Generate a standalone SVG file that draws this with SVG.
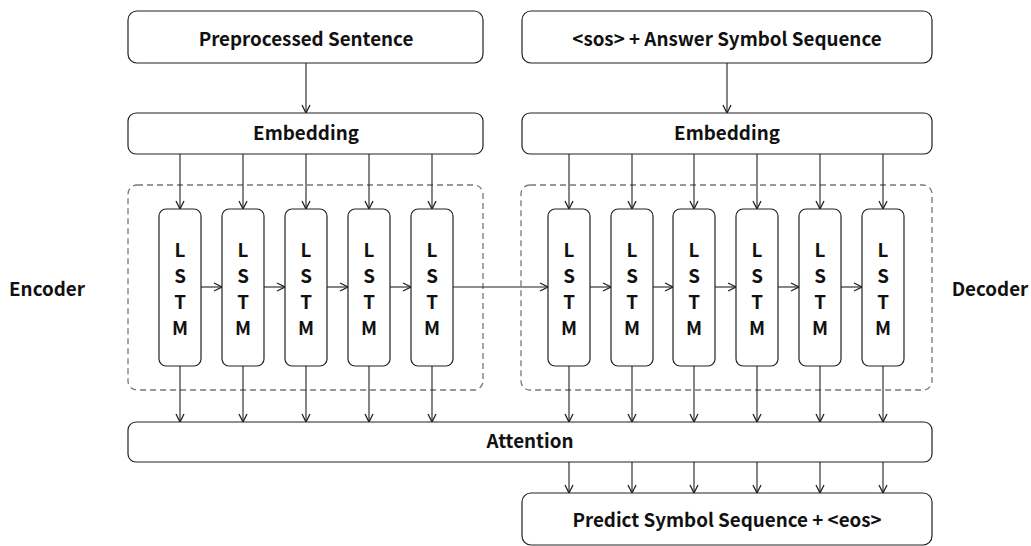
<svg xmlns="http://www.w3.org/2000/svg" width="1031" height="546" viewBox="0 0 1031 546">
  <defs>
    <marker id="arrow" viewBox="0 0 10 10" refX="9" refY="5" markerWidth="10" markerHeight="10" markerUnits="userSpaceOnUse" orient="auto">
      <path d="M1,1 L9,5 L1,9" fill="none" stroke="#222" stroke-width="1.3"/>
    </marker>
  </defs>
  <style>
    .box { fill: #fff; stroke: #222; stroke-width: 1.2; }
    .group { fill: none; stroke: #777; stroke-width: 1.3; stroke-dasharray: 6 4; }
    .lbl { font-family: "Noto Sans CJK KR", "Noto Sans", sans-serif; font-weight: bold; font-size: 18.8px; fill: #111; text-anchor: middle; }
    .conn line { stroke: #222; stroke-width: 1.1; }
    .arr { marker-end: url(#arrow); }
  </style>

  <rect width="1031" height="546" fill="#fff"/>

  <!-- encoder / decoder groupings -->
  <g id="encoder-group">
    <rect class="group" x="128" y="185" width="355" height="205" rx="9"/>
    <text class="lbl" x="47" y="296">Encoder</text>
  </g>
  <g id="decoder-group">
    <rect class="group" x="521" y="185" width="411" height="205" rx="9"/>
    <text class="lbl" x="990" y="296">Decoder</text>
  </g>

  <!-- connectors -->
  <g id="connectors" class="conn">
    <!-- inputs to embeddings -->
    <line class="arr" x1="306" y1="63" x2="306" y2="113"/>
    <line class="arr" x1="727" y1="63" x2="727" y2="113"/>
    <!-- embedding to encoder LSTMs -->
    <line class="arr" x1="180" y1="154" x2="180" y2="209"/>
    <line class="arr" x1="243" y1="154" x2="243" y2="209"/>
    <line class="arr" x1="306" y1="154" x2="306" y2="209"/>
    <line class="arr" x1="369" y1="154" x2="369" y2="209"/>
    <line class="arr" x1="432" y1="154" x2="432" y2="209"/>
    <!-- embedding to decoder LSTMs -->
    <line class="arr" x1="569" y1="154" x2="569" y2="209"/>
    <line class="arr" x1="632" y1="154" x2="632" y2="209"/>
    <line class="arr" x1="694" y1="154" x2="694" y2="209"/>
    <line class="arr" x1="757" y1="154" x2="757" y2="209"/>
    <line class="arr" x1="820" y1="154" x2="820" y2="209"/>
    <line class="arr" x1="883" y1="154" x2="883" y2="209"/>
    <!-- recurrent links -->
    <line class="arr" x1="201" y1="287" x2="222" y2="287"/>
    <line class="arr" x1="264" y1="287" x2="285" y2="287"/>
    <line class="arr" x1="327" y1="287" x2="348" y2="287"/>
    <line class="arr" x1="390" y1="287" x2="411" y2="287"/>
    <line class="arr" x1="453" y1="287" x2="548" y2="287"/>
    <line class="arr" x1="590" y1="287" x2="611" y2="287"/>
    <line class="arr" x1="653" y1="287" x2="673" y2="287"/>
    <line class="arr" x1="715" y1="287" x2="736" y2="287"/>
    <line class="arr" x1="778" y1="287" x2="799" y2="287"/>
    <line class="arr" x1="841" y1="287" x2="862" y2="287"/>
    <!-- LSTMs to attention -->
    <line class="arr" x1="180" y1="366" x2="180" y2="422"/>
    <line class="arr" x1="243" y1="366" x2="243" y2="422"/>
    <line class="arr" x1="306" y1="366" x2="306" y2="422"/>
    <line class="arr" x1="369" y1="366" x2="369" y2="422"/>
    <line class="arr" x1="432" y1="366" x2="432" y2="422"/>
    <line class="arr" x1="569" y1="366" x2="569" y2="422"/>
    <line class="arr" x1="632" y1="366" x2="632" y2="422"/>
    <line class="arr" x1="694" y1="366" x2="694" y2="422"/>
    <line class="arr" x1="757" y1="366" x2="757" y2="422"/>
    <line class="arr" x1="820" y1="366" x2="820" y2="422"/>
    <line class="arr" x1="883" y1="366" x2="883" y2="422"/>
    <!-- attention to prediction -->
    <line class="arr" x1="569" y1="462" x2="569" y2="493"/>
    <line class="arr" x1="632" y1="462" x2="632" y2="493"/>
    <line class="arr" x1="694" y1="462" x2="694" y2="493"/>
    <line class="arr" x1="757" y1="462" x2="757" y2="493"/>
    <line class="arr" x1="820" y1="462" x2="820" y2="493"/>
    <line class="arr" x1="883" y1="462" x2="883" y2="493"/>
  </g>

  <!-- input nodes -->
  <g id="preprocessed-sentence">
    <rect class="box" x="128" y="11" width="355" height="52" rx="9"/>
    <text class="lbl" x="306" y="46">Preprocessed Sentence</text>
  </g>
  <g id="answer-sequence">
    <rect class="box" x="522" y="11" width="410" height="52" rx="9"/>
    <text class="lbl" x="727" y="46">&lt;sos&gt; + Answer Symbol Sequence</text>
  </g>

  <!-- embeddings -->
  <g id="encoder-embedding">
    <rect class="box" x="128" y="113" width="355" height="41" rx="8"/>
    <text class="lbl" x="306" y="140">Embedding</text>
  </g>
  <g id="decoder-embedding">
    <rect class="box" x="522" y="113" width="410" height="41" rx="8"/>
    <text class="lbl" x="727" y="140">Embedding</text>
  </g>

  <!-- encoder LSTM cells -->
  <g id="enc-lstm-1">
    <rect class="box" x="159" y="209" width="42" height="157" rx="7"/>
    <text class="lbl" x="180"><tspan x="180" y="257">L</tspan><tspan x="180" y="283">S</tspan><tspan x="180" y="309">T</tspan><tspan x="180" y="335">M</tspan></text>
  </g>
  <g id="enc-lstm-2">
    <rect class="box" x="222" y="209" width="42" height="157" rx="7"/>
    <text class="lbl" x="243"><tspan x="243" y="257">L</tspan><tspan x="243" y="283">S</tspan><tspan x="243" y="309">T</tspan><tspan x="243" y="335">M</tspan></text>
  </g>
  <g id="enc-lstm-3">
    <rect class="box" x="285" y="209" width="42" height="157" rx="7"/>
    <text class="lbl" x="306"><tspan x="306" y="257">L</tspan><tspan x="306" y="283">S</tspan><tspan x="306" y="309">T</tspan><tspan x="306" y="335">M</tspan></text>
  </g>
  <g id="enc-lstm-4">
    <rect class="box" x="348" y="209" width="42" height="157" rx="7"/>
    <text class="lbl" x="369"><tspan x="369" y="257">L</tspan><tspan x="369" y="283">S</tspan><tspan x="369" y="309">T</tspan><tspan x="369" y="335">M</tspan></text>
  </g>
  <g id="enc-lstm-5">
    <rect class="box" x="411" y="209" width="42" height="157" rx="7"/>
    <text class="lbl" x="432"><tspan x="432" y="257">L</tspan><tspan x="432" y="283">S</tspan><tspan x="432" y="309">T</tspan><tspan x="432" y="335">M</tspan></text>
  </g>

  <!-- decoder LSTM cells -->
  <g id="dec-lstm-1">
    <rect class="box" x="548" y="209" width="42" height="157" rx="7"/>
    <text class="lbl" x="569"><tspan x="569" y="257">L</tspan><tspan x="569" y="283">S</tspan><tspan x="569" y="309">T</tspan><tspan x="569" y="335">M</tspan></text>
  </g>
  <g id="dec-lstm-2">
    <rect class="box" x="611" y="209" width="42" height="157" rx="7"/>
    <text class="lbl" x="632"><tspan x="632" y="257">L</tspan><tspan x="632" y="283">S</tspan><tspan x="632" y="309">T</tspan><tspan x="632" y="335">M</tspan></text>
  </g>
  <g id="dec-lstm-3">
    <rect class="box" x="673" y="209" width="42" height="157" rx="7"/>
    <text class="lbl" x="694"><tspan x="694" y="257">L</tspan><tspan x="694" y="283">S</tspan><tspan x="694" y="309">T</tspan><tspan x="694" y="335">M</tspan></text>
  </g>
  <g id="dec-lstm-4">
    <rect class="box" x="736" y="209" width="42" height="157" rx="7"/>
    <text class="lbl" x="757"><tspan x="757" y="257">L</tspan><tspan x="757" y="283">S</tspan><tspan x="757" y="309">T</tspan><tspan x="757" y="335">M</tspan></text>
  </g>
  <g id="dec-lstm-5">
    <rect class="box" x="799" y="209" width="42" height="157" rx="7"/>
    <text class="lbl" x="820"><tspan x="820" y="257">L</tspan><tspan x="820" y="283">S</tspan><tspan x="820" y="309">T</tspan><tspan x="820" y="335">M</tspan></text>
  </g>
  <g id="dec-lstm-6">
    <rect class="box" x="862" y="209" width="42" height="157" rx="7"/>
    <text class="lbl" x="883"><tspan x="883" y="257">L</tspan><tspan x="883" y="283">S</tspan><tspan x="883" y="309">T</tspan><tspan x="883" y="335">M</tspan></text>
  </g>

  <!-- attention and output -->
  <g id="attention">
    <rect class="box" x="128" y="422" width="804" height="40" rx="8"/>
    <text class="lbl" x="530" y="448">Attention</text>
  </g>
  <g id="prediction">
    <rect class="box" x="522" y="493" width="410" height="52" rx="9"/>
    <text class="lbl" x="727" y="527">Predict Symbol Sequence + &lt;eos&gt;</text>
  </g>
</svg>
